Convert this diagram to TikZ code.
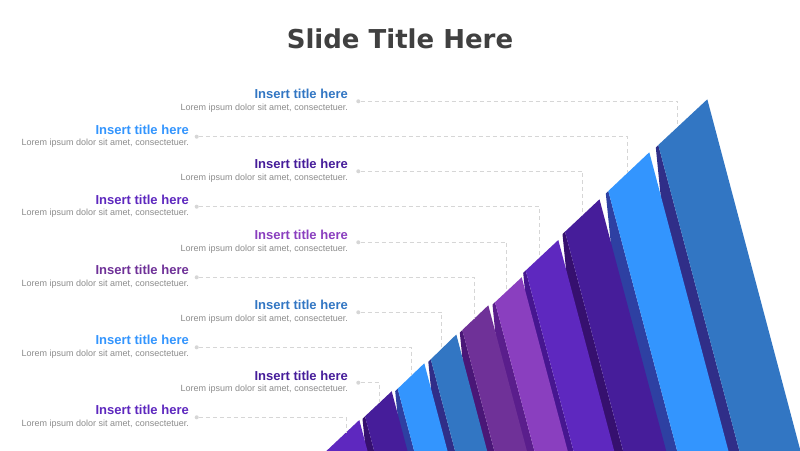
\documentclass[tikz,border=0pt]{standalone}
\usepackage{fontspec}
\setmainfont{Liberation Sans}
\newfontfamily\headfont{DejaVu Sans}
\usetikzlibrary{positioning}
\definecolor{barblue}{HTML}{3276C3}
\definecolor{sideblue}{HTML}{302E88}
\definecolor{barsky}{HTML}{3395FE}
\definecolor{sidesky}{HTML}{2E40A2}
\definecolor{barindigo}{HTML}{461D9A}
\definecolor{sideindigo}{HTML}{36106F}
\definecolor{barviolet}{HTML}{5E28BF}
\definecolor{sideviolet}{HTML}{461690}
\definecolor{barorchid}{HTML}{8A3FBF}
\definecolor{sideorchid}{HTML}{5A1E8C}
\definecolor{barplum}{HTML}{6F3198}
\definecolor{sideplum}{HTML}{4A1777}
\definecolor{headgray}{HTML}{404040}
\definecolor{descgray}{HTML}{8C8C8C}
\definecolor{linegray}{HTML}{D6D6D6}
\tikzset{
  slide_title/.style={
      font=\headfont\bfseries\fontsize{26}{30}\selectfont,
      text=headgray, inner sep=0pt, anchor=base,
    },
  ttl/.style={
      font=\bfseries\fontsize{13}{15}\selectfont,
      inner sep=0pt, anchor=base east,
    },
  desc/.style={
      font=\fontsize{9}{11}\selectfont,
      text=descgray, inner sep=0pt, anchor=base east,
    },
  dot/.style={
      circle, fill=linegray, inner sep=0pt, minimum size=4pt,
    },
  link/.style={
      draw=linegray, line width=0.8pt, dash pattern=on 4pt off 3pt,
    },
}
% top-left corner, top-right corner, face colour, side colour
\newcommand{\slab}[6]{%
  \fill[#6] (#1,#2) -- ++(-2.5,2.5) -- ({#1-2.5+0.1*(452.5-#2)},455)
    -- ({#1+0.265*(455-#2)},455) -- cycle;
  \fill[#5] (#1,#2) -- (#3,#4) -- ({#3+0.265*(455-#4)},455)
    -- ({#1+0.265*(455-#2)},455) -- cycle;
}

\begin{document}
\begin{tikzpicture}[x=1pt,y=-1pt]
  \useasboundingbox (0,0) rectangle (800,450);
  \fill[white] (0,0) rectangle (800,450);

  \node[slide_title] (head) at (400,48.3) {Slide Title Here};

  \begin{scope}
    \clip (0,0) rectangle (800,450);
    \slab{658.3}{145}{707.3}{99.3}{barblue}{sideblue}
    \slab{608.3}{191}{649.3}{152.3}{barsky}{sidesky}
    \slab{565}{231.7}{599.5}{199.3}{barindigo}{sideindigo}
    \slab{525.7}{270.5}{558.3}{240}{barviolet}{sideviolet}
    \slab{495}{302.2}{521.7}{277.3}{barorchid}{sideorchid}
    \slab{462.3}{330}{488.3}{305.3}{barplum}{sideplum}
    \slab{430.8}{359.3}{456.3}{334.5}{barblue}{sideblue}
    \slab{397.7}{388.7}{424.3}{363.3}{barsky}{sidesky}
    \slab{365}{416.3}{391.7}{391.3}{barindigo}{sideindigo}
    \slab{325.3}{452}{359.3}{420}{barviolet}{sideviolet}
  \end{scope}

  \coordinate (e1) at (677.7,126.9);
  \coordinate (e2) at (627.3,173.1);
  \coordinate (e3) at (582.7,215.1);
  \coordinate (e4) at (539.3,257.8);
  \coordinate (e5) at (506.7,291.3);
  \coordinate (e6) at (474.3,318.6);
  \coordinate (e7) at (441.7,348.6);
  \coordinate (e8) at (411.7,375.3);
  \coordinate (e9) at (379.3,402.9);
  \coordinate (e10) at (346,432.5);

  \node[dot] (p1) at (358.3,101.3) {};
  \node[dot] (p2) at (196.7,136.7) {};
  \node[dot] (p3) at (358.3,171.3) {};
  \node[dot] (p4) at (196.7,206.7) {};
  \node[dot] (p5) at (358.3,242.3) {};
  \node[dot] (p6) at (196.7,277.3) {};
  \node[dot] (p7) at (358.3,312.3) {};
  \node[dot] (p8) at (196.7,347.3) {};
  \node[dot] (p9) at (358.3,382.7) {};
  \node[dot] (p10) at (196.7,417.3) {};

  \node[ttl, text=barblue] (t1) at (348,98.8) {Insert title here};
  \node[ttl, text=barsky] (t2) at (189,134.2) {Insert title here};
  \node[ttl, text=barindigo] (t3) at (348,168.8) {Insert title here};
  \node[ttl, text=barviolet] (t4) at (189,204.2) {Insert title here};
  \node[ttl, text=barorchid] (t5) at (348,239.8) {Insert title here};
  \node[ttl, text=barplum] (t6) at (189,274.8) {Insert title here};
  \node[ttl, text=barblue] (t7) at (348,309.8) {Insert title here};
  \node[ttl, text=barsky] (t8) at (189,344.8) {Insert title here};
  \node[ttl, text=barindigo] (t9) at (348,380.2) {Insert title here};
  \node[ttl, text=barviolet] (t10) at (189,414.8) {Insert title here};

  \node[desc] (d1) at ([yshift=-11.5pt]t1.base east) {Lorem ipsum dolor sit amet, consectetuer.};
  \node[desc] (d2) at ([yshift=-11.5pt]t2.base east) {Lorem ipsum dolor sit amet, consectetuer.};
  \node[desc] (d3) at ([yshift=-11.5pt]t3.base east) {Lorem ipsum dolor sit amet, consectetuer.};
  \node[desc] (d4) at ([yshift=-11.5pt]t4.base east) {Lorem ipsum dolor sit amet, consectetuer.};
  \node[desc] (d5) at ([yshift=-11.5pt]t5.base east) {Lorem ipsum dolor sit amet, consectetuer.};
  \node[desc] (d6) at ([yshift=-11.5pt]t6.base east) {Lorem ipsum dolor sit amet, consectetuer.};
  \node[desc] (d7) at ([yshift=-11.5pt]t7.base east) {Lorem ipsum dolor sit amet, consectetuer.};
  \node[desc] (d8) at ([yshift=-11.5pt]t8.base east) {Lorem ipsum dolor sit amet, consectetuer.};
  \node[desc] (d9) at ([yshift=-11.5pt]t9.base east) {Lorem ipsum dolor sit amet, consectetuer.};
  \node[desc] (d10) at ([yshift=-11.5pt]t10.base east) {Lorem ipsum dolor sit amet, consectetuer.};

  \draw[link] (p1) -| (e1);
  \draw[link] (p2) -| (e2);
  \draw[link] (p3) -| (e3);
  \draw[link] (p4) -| (e4);
  \draw[link] (p5) -| (e5);
  \draw[link] (p6) -| (e6);
  \draw[link] (p7) -| (e7);
  \draw[link] (p8) -| (e8);
  \draw[link] (p9) -| (e9);
  \draw[link] (p10) -| (e10);
\end{tikzpicture}
\end{document}
